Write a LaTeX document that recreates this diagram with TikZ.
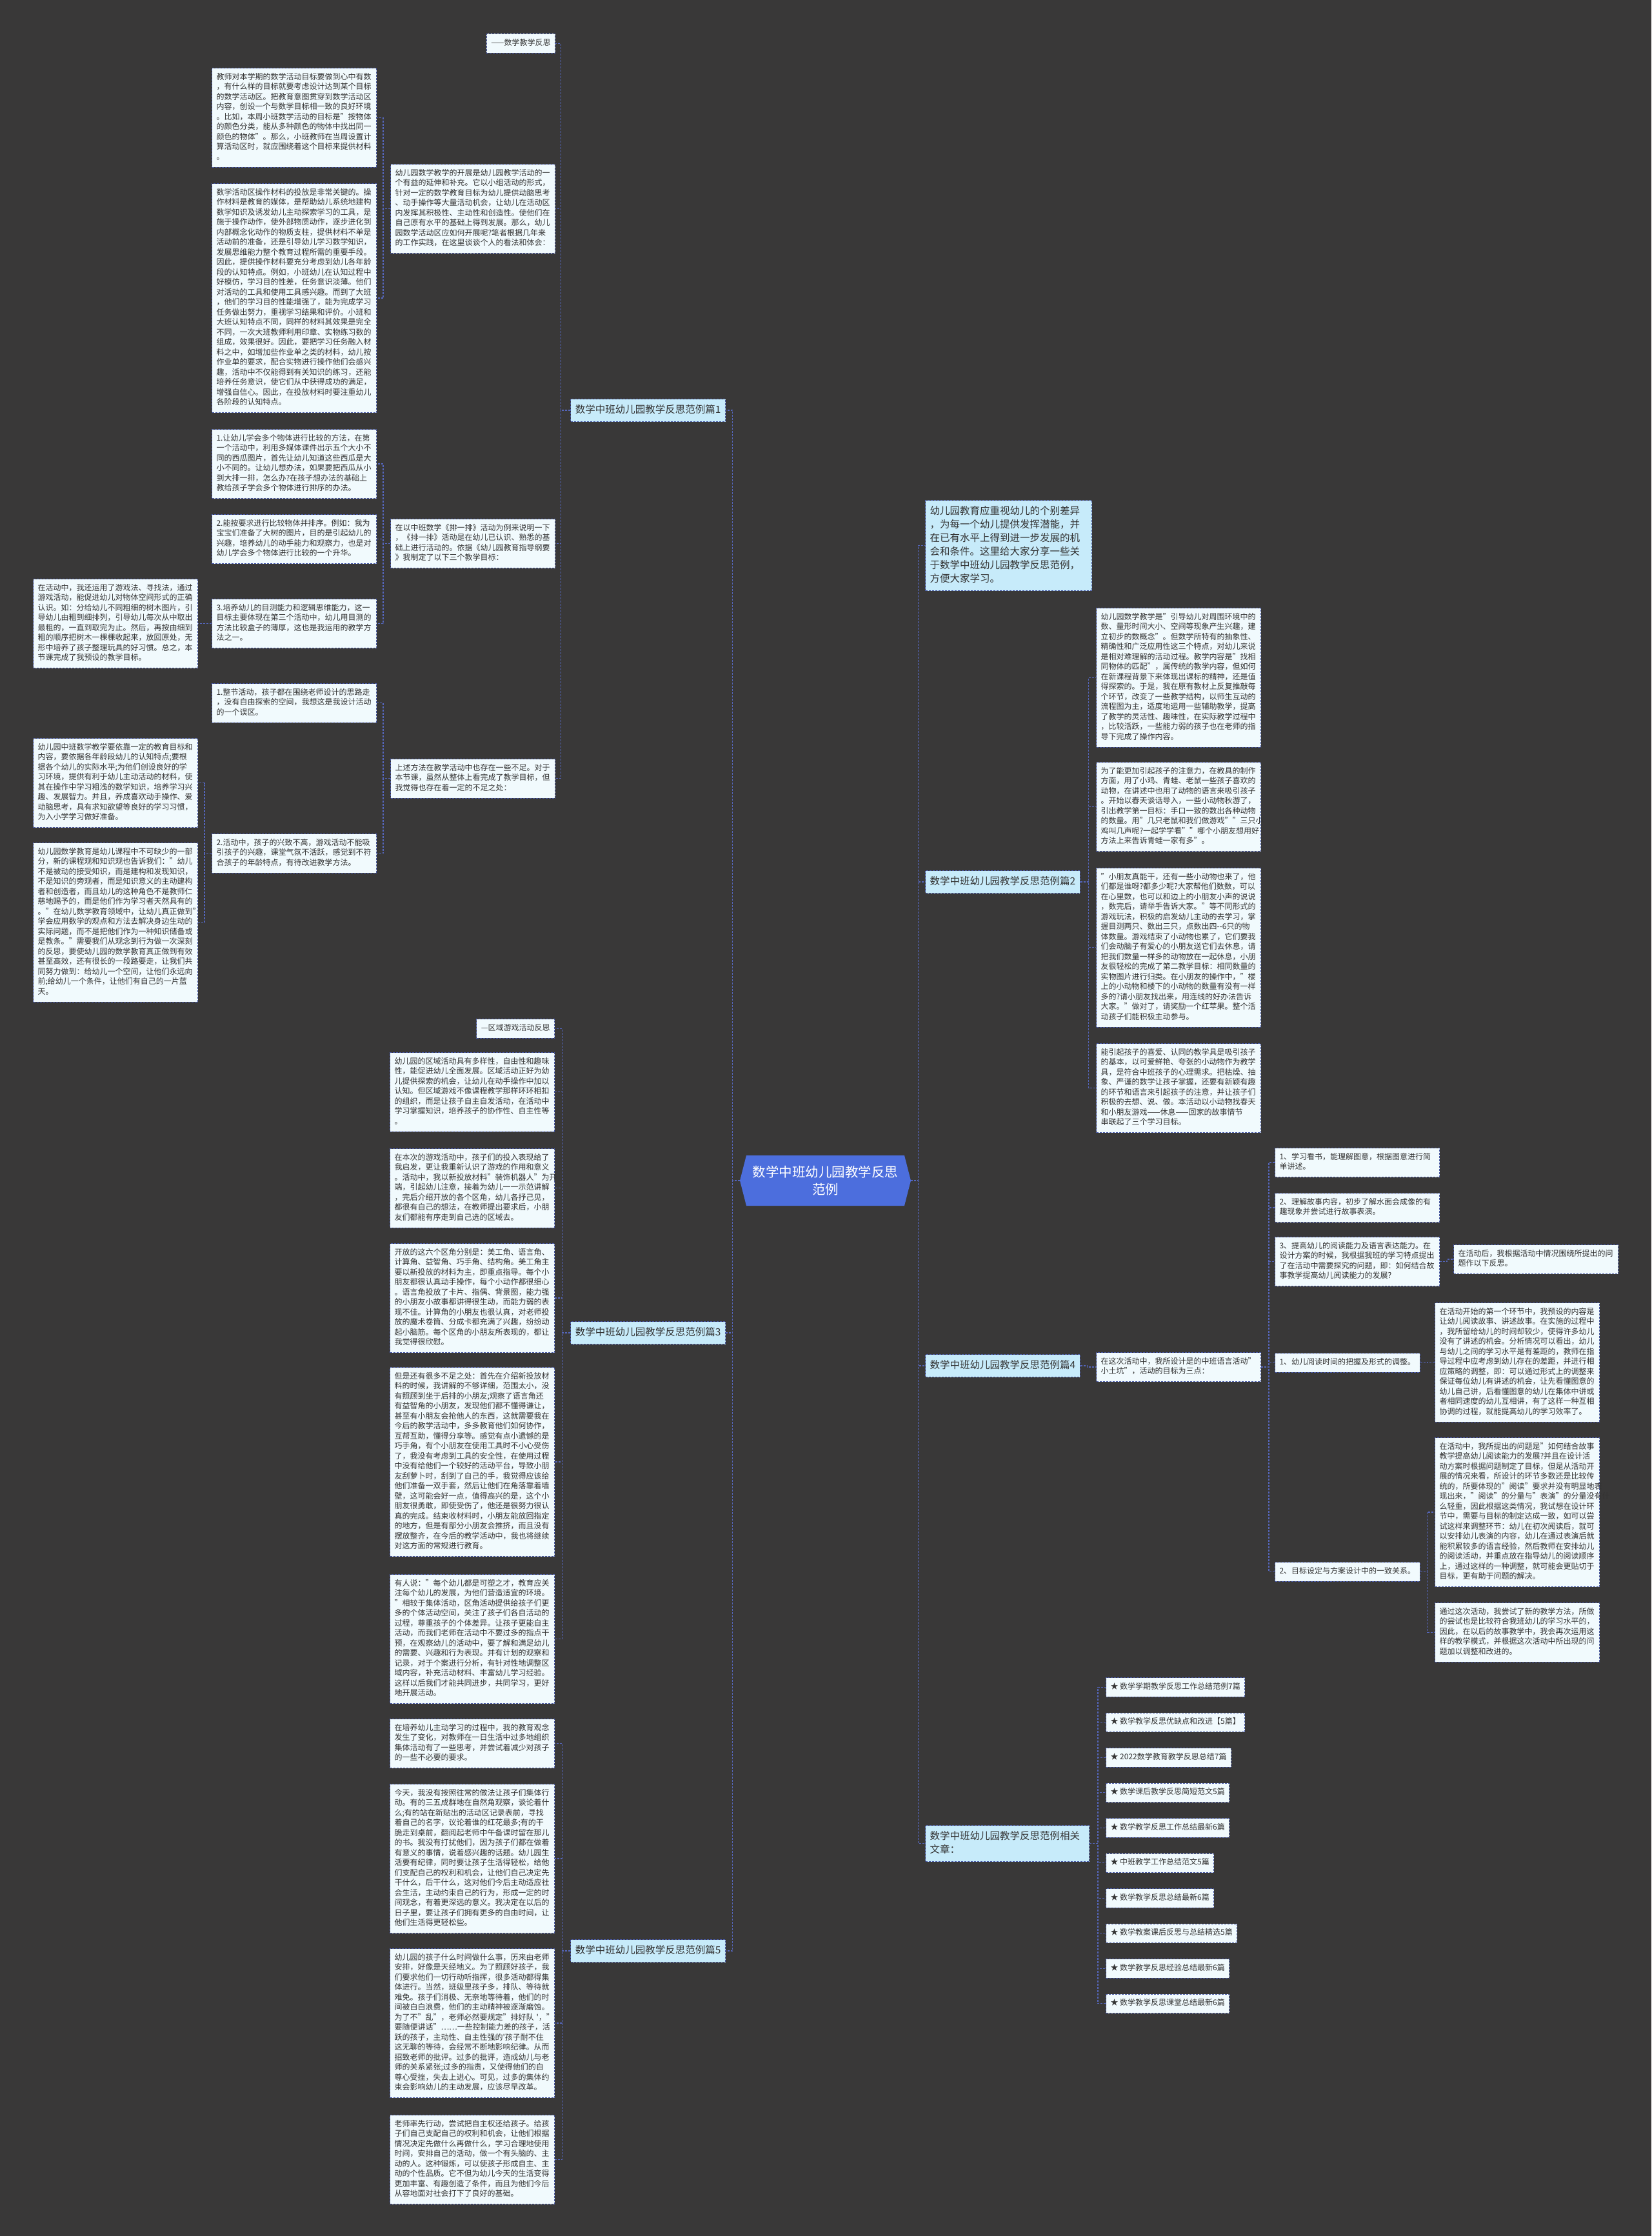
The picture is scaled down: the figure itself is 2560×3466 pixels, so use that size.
\documentclass[tikz,border=0pt]{standalone}
\usepackage{fontspec}
\setmainfont{Noto Sans CJK SC}
\usetikzlibrary{positioning}
\definecolor{bgdark}{HTML}{393838}
\definecolor{paper}{HTML}{F1FAFD}
\definecolor{sky}{HTML}{C7EBFA}
\definecolor{edge}{HTML}{4A5BA8}
\definecolor{wire}{HTML}{5566BB}
\definecolor{rootblue}{HTML}{4C6EDD}
\definecolor{ink}{HTML}{333333}

\begin{document}
\begin{tikzpicture}[x=1pt, y=-1pt,
    tag/.style={draw=edge, line width=1pt, dash pattern=on 3pt off 2pt, fill=paper, text=ink,
      font=\fontsize{12}{15.5}\selectfont, align=left, inner xsep=7pt, inner ysep=7pt,
      execute at begin node=\strut, execute at end node=\strut},
    txt/.style={tag, text width=241pt},
    lbl/.style={tag, fill=sky, font=\fontsize{15.5}{21}\selectfont},
    link/.style={draw=wire, line width=1.2pt, dash pattern=on 3pt off 2pt}]
    \useasboundingbox (0,0) rectangle (2560,3466);
    \fill[bgdark] (0,0) rectangle (2560,3466);

    \fill[rootblue] (1147,1830) -- (1157,1791) -- (1402,1791) -- (1412,1830) -- (1402,1869) -- (1157,1869) -- cycle;
    \node[font=\fontsize{20.5}{27}\selectfont, text=white, align=center, minimum width=265pt, inner sep=0pt] (root) at (1279.5,1830) {数学中班幼儿园教学反思\\范例};

    \node[lbl, anchor=east] (p1) at (1125,636) {数学中班幼儿园教学反思范例篇1};
    \node[lbl, anchor=east] (p3) at (1125,2066) {数学中班幼儿园教学反思范例篇3};
    \node[lbl, anchor=east] (p5) at (1125,3024) {数学中班幼儿园教学反思范例篇5};
    \node[lbl, text width=244pt, anchor=north west] (intro) at (1434,775) {幼儿园教育应重视幼儿的个别差异\\，为每一个幼儿提供发挥潜能，并\\在已有水平上得到进一步发展的机\\会和条件。这里给大家分享一些关\\于数学中班幼儿园教学反思范例，\\方便大家学习。};
    \node[lbl, anchor=west] (p2) at (1434,1367) {数学中班幼儿园教学反思范例篇2};
    \node[lbl, anchor=west] (p4) at (1434,2117) {数学中班幼儿园教学反思范例篇4};
    \node[lbl, text width=240pt, anchor=north west] (p6) at (1434,2829) {数学中班幼儿园教学反思范例相关\\文章：};

    \node[tag, anchor=north east] (fs) at (861,52) {——数学教学反思};
    \node[txt, anchor=north east] (b1) at (861,254) {幼儿园数学教学的开展是幼儿园教学活动的一\\个有益的延伸和补充。它以小组活动的形式，\\针对一定的数学教育目标为幼儿提供动脑思考\\、动手操作等大量活动机会，让幼儿在活动区\\内发挥其积极性、主动性和创造性。使他们在\\自己原有水平的基础上得到发展。那么，幼儿\\园数学活动区应如何开展呢?笔者根据几年来\\的工作实践，在这里谈谈个人的看法和体会：};
    \node[txt, anchor=north east] (b2) at (861,804) {在以中班数学《排一排》活动为例来说明一下\\，《排一排》活动是在幼儿已认识、熟悉的基\\础上进行活动的。依据《幼儿园教育指导纲要\\》我制定了以下三个教学目标：};
    \node[txt, anchor=north east] (b3) at (861,1176) {上述方法在教学活动中也存在一些不足。对于\\本节课，虽然从整体上看完成了教学目标，但\\我觉得也存在着一定的不足之处：};

    \node[txt, anchor=north east] (a1) at (584,105) {教师对本学期的数学活动目标要做到心中有数\\，有什么样的目标就要考虑设计达到某个目标\\的数学活动区。把教育意图贯穿到数学活动区\\内容，创设一个与数学目标相一致的良好环境\\。比如，本周小班数学活动的目标是"按物体\\的颜色分类，能从多种颜色的物体中找出同一\\颜色的物体"。那么，小班教师在当周设置计\\算活动区时，就应围绕着这个目标来提供材料\\。};
    \node[txt, anchor=north east] (a2) at (584,284) {数学活动区操作材料的投放是非常关键的。操\\作材料是教育的媒体，是帮助幼儿系统地建构\\数学知识及诱发幼儿主动探索学习的工具，是\\施于操作动作，使外部物质动作，逐步进化到\\内部概念化动作的物质支柱，提供材料不单是\\活动前的准备，还是引导幼儿学习数学知识，\\发展思维能力整个教育过程所需的重要手段。\\因此，提供操作材料要充分考虑到幼儿各年龄\\段的认知特点。例如，小班幼儿在认知过程中\\好模仿，学习目的性差，任务意识淡薄。他们\\对活动的工具和使用工具感兴趣。而到了大班\\，他们的学习目的性能增强了，能为完成学习\\任务做出努力，重视学习结果和评价。小班和\\大班认知特点不同，同样的材料其效果是完全\\不同，一次大班教师利用印章、实物练习数的\\组成，效果很好。因此，要把学习任务融入材\\料之中，如增加些作业单之类的材料，幼儿按\\作业单的要求，配合实物进行操作他们会感兴\\趣，活动中不仅能得到有关知识的练习，还能\\培养任务意识，使它们从中获得成功的满足，\\增强自信心。因此，在投放材料时要注重幼儿\\各阶段的认知特点。};
    \node[txt, anchor=north east] (c1) at (584,665) {1.让幼儿学会多个物体进行比较的方法，在第\\一个活动中，利用多媒体课件出示五个大小不\\同的西瓜图片，首先让幼儿知道这些西瓜是大\\小不同的。让幼儿想办法，如果要把西瓜从小\\到大排一排，怎么办?在孩子想办法的基础上\\教给孩子学会多个物体进行排序的办法。};
    \node[txt, anchor=north east] (c2) at (584,797) {2.能按要求进行比较物体并排序。例如：我为\\宝宝们准备了大树的图片，目的是引起幼儿的\\兴趣，培养幼儿的动手能力和观察力，也是对\\幼儿学会多个物体进行比较的一个升华。};
    \node[txt, anchor=north east] (c3) at (584,928) {3.培养幼儿的目测能力和逻辑思维能力，这一\\目标主要体现在第三个活动中，幼儿用目测的\\方法比较盒子的薄厚，这也是我运用的教学方\\法之一。};
    \node[txt, anchor=north east] (d1) at (307,897) {在活动中，我还运用了游戏法、寻找法，通过\\游戏活动，能促进幼儿对物体空间形式的正确\\认识。如：分给幼儿不同粗细的树木图片，引\\导幼儿由粗到细排列，引导幼儿每次从中取出\\最粗的，一直到取完为止。然后，再按由细到\\粗的顺序把树木一棵棵收起来，放回原处，无\\形中培养了孩子整理玩具的好习惯。总之，本\\节课完成了我预设的教学目标。};
    \node[txt, anchor=north east] (e1) at (584,1059) {1.整节活动，孩子都在围绕老师设计的思路走\\，没有自由探索的空间，我想这是我设计活动\\的一个误区。};
    \node[txt, anchor=north east] (e2) at (584,1292) {2.活动中，孩子的兴致不高，游戏活动不能吸\\引孩子的兴趣，课堂气氛不活跃，感觉到不符\\合孩子的年龄特点，有待改进教学方法。};
    \node[txt, anchor=north east] (f1) at (307,1144) {幼儿园中班数学教学要依靠一定的教育目标和\\内容，要依据各年龄段幼儿的认知特点;要根\\据各个幼儿的实际水平;为他们创设良好的学\\习环境，提供有利于幼儿主动活动的材料，使\\其在操作中学习粗浅的数学知识，培养学习兴\\趣、发展智力。并且，养成喜欢动手操作、爱\\动脑思考，具有求知欲望等良好的学习习惯，\\为入小学学习做好准备。};
    \node[txt, anchor=north east] (f2) at (307,1306) {幼儿园数学教育是幼儿课程中不可缺少的一部\\分，新的课程观和知识观也告诉我们："幼儿\\不是被动的接受知识，而是建构和发现知识，\\不是知识的旁观者，而是知识意义的主动建构\\者和创造者，而且幼儿的这种角色不是教师仁\\慈地赐予的，而是他们作为学习者天然具有的\\。"在幼儿数学教育领域中，让幼儿真正做到"\\学会应用数学的观点和方法去解决身边生动的\\实际问题，而不是把他们作为一种知识储备或\\是教条。"需要我们从观念到行为做一次深刻\\的反思，要使幼儿园的数学教育真正做到有效\\甚至高效，还有很长的一段路要走，让我们共\\同努力做到：给幼儿一个空间，让他们永远向\\前;给幼儿一个条件，让他们有自己的一片蓝\\天。};

    \node[tag, anchor=north east] (g0) at (860,1579) {—区域游戏活动反思};
    \node[txt, anchor=north east] (g1) at (860,1631) {幼儿园的区域活动具有多样性，自由性和趣味\\性，能促进幼儿全面发展。区域活动正好为幼\\儿提供探索的机会，让幼儿在动手操作中加以\\认知。但区域游戏不像课程教学那样环环相扣\\的组织，而是让孩子自主自发活动，在活动中\\学习掌握知识，培养孩子的协作性、自主性等\\。};
    \node[txt, anchor=north east] (g2) at (860,1780) {在本次的游戏活动中，孩子们的投入表现给了\\我启发，更让我重新认识了游戏的作用和意义\\。活动中，我以新投放材料"装饰机器人"为开\\端，引起幼儿注意，接着为幼儿一一示范讲解\\，完后介绍开放的各个区角，幼儿各抒己见，\\都很有自己的想法，在教师提出要求后，小朋\\友们都能有序走到自己选的区域去。};
    \node[txt, anchor=north east] (g3) at (860,1927) {开放的这六个区角分别是：美工角、语言角、\\计算角、益智角、巧手角、结构角。美工角主\\要以新投放的材料为主，即重点指导。每个小\\朋友都很认真动手操作，每个小动作都很细心\\。语言角投放了卡片、指偶、背景图，能力强\\的小朋友小故事都讲得很生动，而能力弱的表\\现不佳。计算角的小朋友也很认真，对老师投\\放的魔术卷筒、分成卡都充满了兴趣，纷纷动\\起小脑筋。每个区角的小朋友所表现的，都让\\我觉得很欣慰。};
    \node[txt, anchor=north east] (g4) at (860,2119) {但是还有很多不足之处：首先在介绍新投放材\\料的时候，我讲解的不够详细，范围太小，没\\有照顾到坐于后排的小朋友;观察了语言角还\\有益智角的小朋友，发现他们都不懂得谦让，\\甚至有小朋友会抢他人的东西，这就需要我在\\今后的教学活动中，多多教育他们如何协作，\\互帮互助，懂得分享等。感觉有点小遗憾的是\\巧手角，有个小朋友在使用工具时不小心受伤\\了，我没有考虑到工具的安全性，在使用过程\\中没有给他们一个较好的活动平台，导致小朋\\友刮萝卜时，刮到了自己的手，我觉得应该给\\他们准备一双手套，然后让他们在角落靠着墙\\壁，这可能会好一点，值得高兴的是，这个小\\朋友很勇敢，即使受伤了，他还是很努力很认\\真的完成。结束收材料时，小朋友能放回指定\\的地方，但是有部分小朋友会推挤，而且没有\\摆放整齐，在今后的教学活动中，我也将继续\\对这方面的常规进行教育。};
    \node[txt, anchor=north east] (g5) at (860,2440) {有人说："每个幼儿都是可塑之才，教育应关\\注每个幼儿的发展，为他们营造适宜的环境。\\"相较于集体活动，区角活动提供给孩子们更\\多的个体活动空间，关注了孩子们各自活动的\\过程，尊重孩子的个体差异。让孩子更能自主\\活动，而我们老师在活动中不要过多的指点干\\预，在观察幼儿的活动中，要了解和满足幼儿\\的需要、兴趣和行为表现。并有计划的观察和\\记录，对于个案进行分析，有针对性地调整区\\域内容，补充活动材料、丰富幼儿学习经验。\\这样以后我们才能共同进步，共同学习，更好\\地开展活动。};

    \node[txt, anchor=north east] (h1) at (860,2664) {在培养幼儿主动学习的过程中，我的教育观念\\发生了变化，对教师在一日生活中过多地组织\\集体活动有了一些思考，并尝试着减少对孩子\\的一些不必要的要求。};
    \node[txt, anchor=north east] (h2) at (860,2765) {今天，我没有按照往常的做法让孩子们集体行\\动。有的三五成群地在自然角观察，谈论着什\\么;有的站在新贴出的活动区记录表前，寻找\\着自己的名字，议论着谁的红花最多;有的干\\脆走到桌前，翻阅起老师中午备课时留在那儿\\的书。我没有打扰他们，因为孩子们都在做着\\有意义的事情，说着感兴趣的话题。幼儿园生\\活要有纪律，同时要让孩子生活得轻松，给他\\们支配自己的权利和机会，让他们自己决定先\\干什么，后干什么，这对他们今后主动适应社\\会生活，主动约束自己的行为，形成一定的时\\间观念，有着更深远的意义。我决定在以后的\\日子里，要让孩子们拥有更多的自由时间，让\\他们生活得更轻松些。};
    \node[txt, anchor=north east] (h3) at (860,3020) {幼儿园的孩子什么时间做什么事，历来由老师\\安排，好像是天经地义。为了照顾好孩子，我\\们要求他们一切行动听指挥，很多活动都得集\\体进行。当然，班级里孩子多，排队、等待就\\难免。孩子们消极、无奈地等待着，他们的时\\间被白白浪费，他们的主动精神被逐渐磨蚀。\\为了不"乱"，老师必然要规定"排好队~\textquotesingle，"不\\要随便讲话"……一些控制能力差的孩子，活\\跃的孩子，主动性、自主性强的\textquotesingle 孩子耐不住\\这无聊的等待，会经常不断地影响纪律。从而\\招致老师的批评。过多的批评，造成幼儿与老\\师的关系紧张;过多的指责，又使得他们的自\\尊心受挫，失去上进心。可见，过多的集体约\\束会影响幼儿的主动发展，应该尽早改革。};
    \node[txt, anchor=north east] (h4) at (860,3278) {老师率先行动，尝试把自主权还给孩子。给孩\\子们自己支配自己的权利和机会，让他们根据\\情况决定先做什么再做什么，学习合理地使用\\时间，安排自己的活动，做一个有头脑的、主\\动的人。这种锻炼，可以使孩子形成自主、主\\动的个性品质。它不但为幼儿今天的生活变得\\更加丰富、有趣创造了条件，而且为他们今后\\从容地面对社会打下了良好的基础。};

    \node[txt, anchor=north west] (k1) at (1699,942) {幼儿园数学教学是"引导幼儿对周围环境中的\\数、量形时间大小、空间等现象产生兴趣，建\\立初步的数概念"。但数学所特有的抽象性、\\精确性和广泛应用性这三个特点，对幼儿来说\\是相对难理解的活动过程。教学内容是"找相\\同物体的匹配"，属传统的教学内容，但如何\\在新课程背景下来体现出课标的精神，还是值\\得探索的。于是，我在原有教材上反复推敲每\\个环节，改变了一些教学结构，以师生互动的\\流程图为主，适度地运用一些辅助教学，提高\\了教学的灵活性、趣味性，在实际教学过程中\\，比较活跃，一些能力弱的孩子也在老师的指\\导下完成了操作内容。};
    \node[txt, anchor=north west] (k2) at (1699,1181) {为了能更加引起孩子的注意力，在教具的制作\\方面，用了小鸡、青蛙、老鼠一些孩子喜欢的\\动物，在讲述中也用了动物的语言来吸引孩子\\。开始以春天谈话导入，一些小动物秋游了，\\引出教学第一目标：手口一致的数出各种动物\\的数量。用"几只老鼠和我们做游戏""三只小\\鸡叫几声呢?一起学学看""哪个小朋友想用好\\方法上来告诉青蛙一家有多"。};
    \node[txt, anchor=north west] (k3) at (1699,1345) {"小朋友真能干，还有一些小动物也来了，他\\们都是谁呀?都多少呢?大家帮他们数数，可以\\在心里数，也可以和边上的小朋友小声的说说\\，数完后，请举手告诉大家。"等不同形式的\\游戏玩法，积极的启发幼儿主动的去学习，掌\\握目测两只、数出三只，点数出四-{}-6只的物\\体数量。游戏结束了小动物也累了，它们要我\\们会动脑子有爱心的小朋友送它们去休息，请\\把我们数量一样多的动物放在一起休息，小朋\\友很轻松的完成了第二教学目标：相同数量的\\实物图片进行归类。在小朋友的操作中，"楼\\上的小动物和楼下的小动物的数量有没有一样\\多的?请小朋友找出来，用连线的好办法告诉\\大家。"做对了，请奖励一个红苹果。整个活\\动孩子们能积极主动参与。};
    \node[txt, anchor=north west] (k4) at (1699,1617) {能引起孩子的喜爱、认同的教学具是吸引孩子\\的基本，以可爱鲜艳、夸张的小动物作为教学\\具，是符合中班孩子的心理需求。把枯燥、抽\\象、严谨的数学让孩子掌握，还要有新颖有趣\\的环节和语言来引起孩子的注意，并让孩子们\\积极的去想、说、做。本活动以小动物找春天\\和小朋友游戏——休息——回家的故事情节\\串联起了三个学习目标。};

    \node[txt, anchor=north west] (m0) at (1699,2096) {在这次活动中，我所设计是的中班语言活动"\\小土坑"，活动的目标为三点：};
    \node[txt, anchor=north west] (m1) at (1976,1779) {1、学习看书，能理解图意，根据图意进行简\\单讲述。};
    \node[txt, anchor=north west] (m2) at (1976,1849) {2、理解故事内容，初步了解水面会成像的有\\趣现象并尝试进行故事表演。};
    \node[txt, anchor=north west] (m3) at (1976,1917) {3、提高幼儿的阅读能力及语言表达能力。在\\设计方案的时候，我根据我班的学习特点提出\\了在活动中需要探究的问题，即：如何结合故\\事教学提高幼儿阅读能力的发展?};
    \node[tag, anchor=north west] (m4) at (1976,2097) {1、幼儿阅读时间的把握及形式的调整。};
    \node[tag, anchor=north west] (m5) at (1976,2421) {2、目标设定与方案设计中的一致关系。};
    \node[txt, anchor=north west] (n1) at (2253,1929) {在活动后，我根据活动中情况围绕所提出的问\\题作以下反思。};
    \node[txt, anchor=north west] (n2) at (2224,2019) {在活动开始的第一个环节中，我预设的内容是\\让幼儿阅读故事、讲述故事。在实施的过程中\\，我所留给幼儿的时间却较少，使得许多幼儿\\没有了讲述的机会。分析情况可以看出，幼儿\\与幼儿之间的学习水平是有差距的，教师在指\\导过程中应考虑到幼儿存在的差距，并进行相\\应策略的调整，即：可以通过形式上的调整来\\保证每位幼儿有讲述的机会，让先看懂图意的\\幼儿自己讲，后看懂图意的幼儿在集体中讲或\\者相同速度的幼儿互相讲，有了这样一种互相\\协调的过程，就能提高幼儿的学习效率了。};
    \node[txt, anchor=north west] (n3) at (2224,2228) {在活动中，我所提出的问题是"如何结合故事\\教学提高幼儿阅读能力的发展?并且在设计活\\动方案时根据问题制定了目标，但是从活动开\\展的情况来看，所设计的环节多数还是比较传\\统的，所要体现的"阅读"要求并没有明显地表\\现出来，"阅读"的分量与"表演"的分量没有什\\么轻重，因此根据这类情况，我试想在设计环\\节中，需要与目标的制定达成一致，如可以尝\\试这样来调整环节：幼儿在初次阅读后，就可\\以安排幼儿表演的内容，幼儿在通过表演后就\\能积累较多的语言经验，然后教师在安排幼儿\\的阅读活动，并重点放在指导幼儿的阅读顺序\\上，通过这样的一种调整，就可能会更贴切于\\目标，更有助于问题的解决。};
    \node[txt, anchor=north west] (n4) at (2224,2484) {通过这次活动，我尝试了新的教学方法，所做\\的尝试也是比较符合我班幼儿的学习水平的，\\因此，在以后的故事教学中，我会再次运用这\\样的教学模式，并根据这次活动中所出现的问\\题加以调整和改进的。};

    \node[tag, anchor=north west] (r1) at (1714,2600) {★ 数学学期教学反思工作总结范例7篇};
    \node[tag, below=24pt of r1.south west, anchor=north west] (r2) {★ 数学教学反思优缺点和改进【5篇】};
    \node[tag, below=24pt of r2.south west, anchor=north west] (r3) {★ 2022数学教育教学反思总结7篇};
    \node[tag, below=24pt of r3.south west, anchor=north west] (r4) {★ 数学课后教学反思简短范文5篇};
    \node[tag, below=24pt of r4.south west, anchor=north west] (r5) {★ 数学教学反思工作总结最新6篇};
    \node[tag, below=24pt of r5.south west, anchor=north west] (r6) {★ 中班教学工作总结范文5篇};
    \node[tag, below=24pt of r6.south west, anchor=north west] (r7) {★ 数学教学反思总结最新6篇};
    \node[tag, below=24pt of r7.south west, anchor=north west] (r8) {★ 数学教案课后反思与总结精选5篇};
    \node[tag, below=24pt of r8.south west, anchor=north west] (r9) {★ 数学教学反思经验总结最新6篇};
    \node[tag, below=24pt of r9.south west, anchor=north west] (r10) {★ 数学教学反思课堂总结最新6篇};

    \draw[link] (root.west) -- ++(-11,0) |- (p1.east);
    \draw[link] (root.west) -- ++(-11,0) |- (p3.east);
    \draw[link] (root.west) -- ++(-11,0) |- (p5.east);
    \draw[link] (root.east) -- ++(11,0) |- (intro.west);
    \draw[link] (root.east) -- ++(11,0) |- (p2.west);
    \draw[link] (root.east) -- ++(11,0) |- (p4.west);
    \draw[link] (root.east) -- ++(11,0) |- (p6.west);

    \draw[link] (p1.west) -- ++(-15,0) |- (fs.east);
    \draw[link] (p1.west) -- ++(-15,0) |- (b1.east);
    \draw[link] (p1.west) -- ++(-15,0) |- (b2.east);
    \draw[link] (p1.west) -- ++(-15,0) |- (b3.east);
    \draw[link] (b1.west) -- ++(-11,0) |- (a1.east);
    \draw[link] (b1.west) -- ++(-11,0) |- (a2.east);
    \draw[link] (b2.west) -- ++(-11,0) |- (c1.east);
    \draw[link] (b2.west) -- ++(-11,0) |- (c2.east);
    \draw[link] (b2.west) -- ++(-11,0) |- (c3.east);
    \draw[link] (c3.west) -- ++(-11,0) |- (d1.east);
    \draw[link] (b3.west) -- ++(-11,0) |- (e1.east);
    \draw[link] (b3.west) -- ++(-11,0) |- (e2.east);
    \draw[link] (e2.west) -- ++(-11,0) |- (f1.east);
    \draw[link] (e2.west) -- ++(-11,0) |- (f2.east);

    \draw[link] (p3.west) -- ++(-13,0) |- (g0.east);
    \draw[link] (p3.west) -- ++(-13,0) |- (g1.east);
    \draw[link] (p3.west) -- ++(-13,0) |- (g2.east);
    \draw[link] (p3.west) -- ++(-13,0) |- (g3.east);
    \draw[link] (p3.west) -- ++(-13,0) |- (g4.east);
    \draw[link] (p3.west) -- ++(-13,0) |- (g5.east);
    \draw[link] (p5.west) -- ++(-13,0) |- (h1.east);
    \draw[link] (p5.west) -- ++(-13,0) |- (h2.east);
    \draw[link] (p5.west) -- ++(-13,0) |- (h3.east);
    \draw[link] (p5.west) -- ++(-13,0) |- (h4.east);

    \draw[link] (p2.east) -- ++(13,0) |- (k1.west);
    \draw[link] (p2.east) -- ++(13,0) |- (k2.west);
    \draw[link] (p2.east) -- ++(13,0) |- (k3.west);
    \draw[link] (p2.east) -- ++(13,0) |- (k4.west);
    \draw[link] (p4.east) -- ++(11,0) |- (m0.west);
    \draw[link] (m0.east) -- ++(12,0) |- (m1.west);
    \draw[link] (m0.east) -- ++(12,0) |- (m2.west);
    \draw[link] (m0.east) -- ++(12,0) |- (m3.west);
    \draw[link] (m0.east) -- ++(12,0) |- (m4.west);
    \draw[link] (m0.east) -- ++(12,0) |- (m5.west);
    \draw[link] (m3.east) -- ++(11,0) |- (n1.west);
    \draw[link] (m4.east) -- ++(11,0) |- (n2.west);
    \draw[link] (m5.east) -- ++(11,0) |- (n3.west);
    \draw[link] (m5.east) -- ++(11,0) |- (n4.west);

    \draw[link] (p6.east) -- ++(13,0) |- (r1.west);
    \draw[link] (p6.east) -- ++(13,0) |- (r2.west);
    \draw[link] (p6.east) -- ++(13,0) |- (r3.west);
    \draw[link] (p6.east) -- ++(13,0) |- (r4.west);
    \draw[link] (p6.east) -- ++(13,0) |- (r5.west);
    \draw[link] (p6.east) -- ++(13,0) |- (r6.west);
    \draw[link] (p6.east) -- ++(13,0) |- (r7.west);
    \draw[link] (p6.east) -- ++(13,0) |- (r8.west);
    \draw[link] (p6.east) -- ++(13,0) |- (r9.west);
    \draw[link] (p6.east) -- ++(13,0) |- (r10.west);
\end{tikzpicture}
\end{document}
